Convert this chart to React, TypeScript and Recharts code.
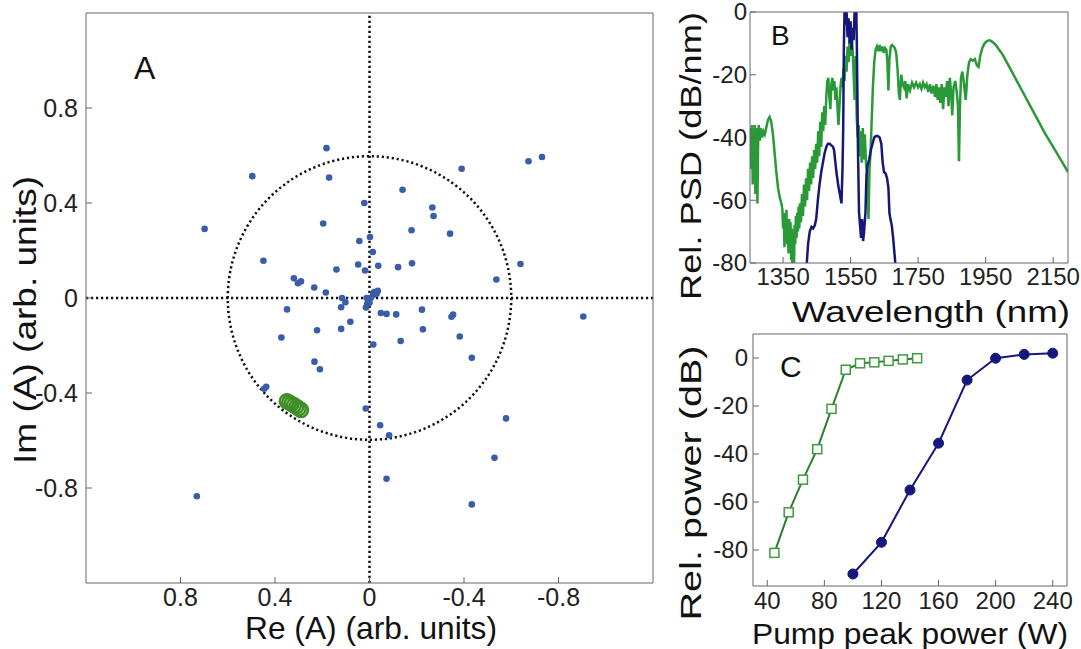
import React from 'react';
import {
  ScatterChart,
  Scatter,
  LineChart,
  Line,
  XAxis,
  YAxis,
  ReferenceLine,
  ReferenceDot,
} from 'recharts';

// ---- Panel A: complex amplitudes ----
const reBlue = [
  0.182, 0.496, 0.171, -0.673, -0.73, -0.39, -0.14, 0.022, -0.266, -0.271, 0.698, 0.196, -0.178,
  -0.341, -0.002, 0.043, -0.014, 0.449, 0.048, 0.019, -0.037, 0.14, -0.121, -0.18, -0.639, 0.32,
  0.303, 0.29, 0.234, 0.185, -0.537, 0.116, 0.102, 0.12, 0.349, -0.048, -0.072, -0.113, -0.222,
  -0.347, -0.354, -0.905, 0.081, 0.12, 0.222, -0.226, 0.373, -0.382, -0.132, -0.016, -0.433,
  0.233, 0.21, 0.437, 0.446, 0.016, -0.578, -0.045, -0.083, -0.529, -0.072, 0.731, -0.433,
  0.015, 0.01, 0.005, -0.005, -0.015, -0.025, -0.035, 0.0, -0.02, 0.012, -0.03,
];
const imBlue = [
  0.631, 0.513, 0.507, 0.576, 0.594, 0.544, 0.456, 0.4, 0.381, 0.345, 0.291, 0.314, 0.285, 0.271,
  0.257, 0.24, 0.194, 0.157, 0.141, 0.116, 0.136, 0.12, 0.13, 0.146, 0.143, 0.083, 0.062, 0.07,
  0.044, 0.023, 0.078, 0.0, -0.018, -0.039, -0.048, -0.063, -0.067, -0.069, -0.049, -0.079, -0.07,
  -0.078, -0.1, -0.13, -0.136, -0.132, -0.166, -0.162, -0.181, -0.196, -0.252, -0.268, -0.3,
  -0.374, -0.382, -0.465, -0.507, -0.536, -0.578, -0.673, -0.761, -0.835, -0.869,
  -0.04, -0.025, -0.01, 0.0, 0.012, 0.02, 0.03, -0.02, 0.025, 0.0, 0.018,
];
const reGreen = [0.35, 0.34, 0.33, 0.32, 0.31, 0.3, 0.29];
const imGreen = [-0.435, -0.44, -0.446, -0.452, -0.458, -0.465, -0.472];
const amplitudeTicks = [-0.8, -0.4, 0, 0.4, 0.8];

// ---- Panel B: spectra ----
const greenWavelength = [
  1252, 1254, 1256, 1258, 1260, 1262, 1264, 1266, 1268, 1270, 1272, 1274, 1276, 1278, 1281, 1284,
  1288, 1292, 1296, 1300, 1305, 1310, 1315, 1320, 1325, 1330, 1335, 1340, 1345, 1348, 1350, 1352,
  1354, 1356, 1358, 1360, 1362, 1364, 1366, 1368, 1370, 1372, 1374, 1376, 1378, 1380, 1382, 1384,
  1386, 1388, 1390, 1392, 1394, 1396, 1398, 1400, 1403, 1406, 1409, 1412, 1415, 1418, 1421, 1424,
  1427, 1430, 1433, 1436, 1439, 1442, 1445, 1448, 1451, 1454, 1457, 1460, 1463, 1466, 1469, 1472,
  1475, 1478, 1481, 1484, 1487, 1490, 1493, 1496, 1499, 1502, 1505, 1508, 1511, 1514, 1517, 1520,
  1523, 1526, 1529, 1532, 1535, 1538, 1541, 1544, 1547, 1550, 1553, 1556, 1559, 1562, 1565, 1568,
  1571, 1574, 1577, 1580, 1583, 1586, 1589, 1592, 1596, 1600, 1603, 1606, 1609, 1612, 1616, 1620,
  1624, 1628, 1632, 1636, 1640, 1644, 1648, 1652, 1656, 1659, 1662, 1665, 1669, 1673, 1677, 1681,
  1685, 1689, 1693, 1696, 1700, 1704, 1708, 1712, 1716, 1720, 1726, 1732, 1738, 1744, 1750, 1755,
  1760, 1765, 1770, 1775, 1780, 1785, 1790, 1795, 1800, 1804, 1808, 1812, 1816, 1820, 1824, 1828,
  1832, 1836, 1840, 1844, 1848, 1851, 1855, 1860, 1865, 1868, 1871, 1874, 1877, 1881, 1885, 1891,
  1896, 1901, 1906, 1912, 1918, 1924, 1929, 1934, 1940, 1947, 1955, 1962, 1970, 1980, 1990, 2000,
  2010, 2020, 2030, 2045, 2060, 2080, 2100, 2125, 2150, 2175, 2194,
];
const greenPsd = [
  -44, -37, -50, -36, -55, -38, -46, -36, -58, -40, -37, -61, -42, -36, -41, -37,
  -40, -38, -39, -37, -34.5, -33.5, -35, -39, -45, -51, -56, -59, -61, -63, -69, -64,
  -75, -66, -71, -63, -74, -67, -77, -66, -72, -67, -79, -69, -84, -70, -85, -68,
  -74, -65, -72, -64, -70, -62, -69, -61, -67, -58, -65, -55, -62, -53, -60, -50,
  -57, -48, -55, -46, -53, -44, -50, -42, -48, -38, -46, -35, -43, -32, -38, -30,
  -36, -27, -22, -21, -27, -31, -23, -21, -25, -22, -28, -24, -30, -36, -30, -24,
  -21, -24, -18, -22, -14, -19, -11, -16, -9, -14, -8, -12, -20, -28, -14, -33,
  -40, -36, -46, -38, -48, -37, -47, -39, -49, -52, -66, -50, -45, -36, -24, -16,
  -12, -11, -12.5, -10.5, -12.5, -11, -13, -11.5, -12, -16, -25, -15, -11, -10.5, -11, -11.5,
  -13, -18, -26, -28, -20, -23, -24, -22, -27.5, -23, -25, -22.5, -24, -22.5, -24, -23,
  -24.5, -22.5, -24, -23, -25.5, -23, -26, -23.5, -27, -23, -28, -24, -29, -23, -31, -24,
  -27, -22, -30, -21, -26, -33, -24, -22, -26, -30, -47.6, -30, -21, -19, -22, -28,
  -20, -16, -15, -15.5, -15, -17, -17.5, -14, -11.5, -10, -9.2, -9, -9.5, -10.5, -12, -13.5,
  -15.5, -17.5, -19.5, -22.5, -25.5, -29.5, -33.5, -38.5, -43, -47.5, -51,
];
const blueWavelength = [
  1419, 1424, 1429, 1434, 1439, 1444, 1448, 1453, 1458, 1463, 1468, 1473, 1478, 1483, 1488, 1493,
  1498, 1501, 1505, 1508, 1513, 1518, 1523, 1526, 1528, 1530, 1532, 1535, 1538, 1541, 1544, 1547,
  1550, 1553, 1556, 1559, 1562, 1565, 1567, 1569, 1572, 1575, 1578, 1581, 1584, 1587, 1590, 1594,
  1597, 1600, 1605, 1610, 1615, 1620, 1625, 1630, 1636, 1641, 1645, 1649, 1654, 1658, 1662, 1665,
  1668, 1672, 1676, 1680, 1684,
];
const bluePsd = [
  -82, -74, -70, -68.5, -69, -68, -66, -60, -55, -51, -48, -45, -43, -42, -42, -42.5,
  -43, -44, -48, -51, -55, -58, -61, -50, -38, -12, 0.5, -4, 0.5, -8, -2, -10,
  -3, -12, -5, -9, 0.5, -3, 0.5, -15, -45, -64, -68, -72, -66, -73, -70, -64,
  -52, -49, -47, -44, -42, -40, -39.5, -39.5, -40, -42, -48, -51, -51.5, -53, -56, -64,
  -66, -68, -72, -77, -82,
];
const wavelengthTicks = [1350, 1550, 1750, 1950, 2150];
const psdTicks = [-80, -60, -40, -20, 0];

// ---- Panel C: conversion vs pump ----
const greenPump = [45, 55, 65, 75, 85, 95, 105, 115, 125, 135, 145];
const greenPower = [-81.2, -64.3, -50.7, -38, -21.2, -4.9, -2.2, -1.8, -1.2, -0.6, -0.1];
const bluePump = [100, 120, 140, 160, 180, 200, 220, 240];
const bluePower = [-90, -76.8, -55, -35.5, -9.2, -0.1, 1.5, 2];
const pumpTicks = [40, 80, 120, 160, 200, 240];
const powerTicks = [-80, -60, -40, -20, 0];

const FONT = '"Liberation Sans", Arial, Helvetica, sans-serif';
const AXIS = '#666';
const GREEN = '#2a9a38';
const NAVY = '#15177c';

const blueDots = reBlue.map((re, i) => ({ re, im: imBlue[i] }));
const greenDots = reGreen.map((re, i) => ({ re, im: imGreen[i] }));
const greenSpectrum = greenWavelength.map((nm, i) => ({ nm, psd: greenPsd[i] }));
const blueSpectrum = blueWavelength.map((nm, i) => ({ nm, psd: bluePsd[i] }));
const greenConv = greenPump.map((pump, i) => ({ pump, power: greenPower[i] }));
const blueConv = bluePump.map((pump, i) => ({ pump, power: bluePower[i] }));

const blank = () => '';

// tick label renderer so the font size is applied for sure
function TickText(props: any) {
  const { x, y, payload, textAnchor, orientation, size } = props;
  const dy = orientation === 'bottom' ? '0.8em' : '0.35em';
  return (
    <text x={x} y={y} dy={dy} textAnchor={textAnchor} fontSize={size} fontFamily={FONT} fill="#222">
      {payload.value}
    </text>
  );
}

const dotted = { stroke: '#111', strokeWidth: 2.5, strokeDasharray: '2.2 2.8' };

function PanelA() {
  // plot area is 567 px for 2.4 units -> circle of radius 0.6
  const circleR = (567 * 0.6) / 2.4;
  return (
    <ScatterChart width={670} height={620} margin={{ top: 12, right: 12, bottom: 0, left: 0 }}>
      <XAxis
        xAxisId="b"
        type="number"
        dataKey="re"
        domain={[-1.2, 1.2]}
        reversed
        ticks={amplitudeTicks}
        interval={0}
        height={37}
        tickSize={-6}
        tickMargin={9}
        stroke={AXIS}
        tick={<TickText orientation="bottom" size={25} />}
      />
      <XAxis
        xAxisId="t"
        orientation="top"
        type="number"
        domain={[-1.2, 1.2]}
        reversed
        ticks={amplitudeTicks}
        interval={0}
        height={1}
        tickSize={-6}
        tickFormatter={blank}
        stroke={AXIS}
      />
      <YAxis
        yAxisId="l"
        type="number"
        dataKey="im"
        domain={[-1.2, 1.2]}
        ticks={amplitudeTicks}
        interval={0}
        width={86}
        tickSize={-6}
        tickMargin={14}
        stroke={AXIS}
        tick={<TickText orientation="left" size={25} />}
      />
      <YAxis
        yAxisId="r"
        orientation="right"
        type="number"
        domain={[-1.2, 1.2]}
        ticks={amplitudeTicks}
        interval={0}
        width={5}
        tickSize={-6}
        tickFormatter={blank}
        stroke={AXIS}
      />
      <ReferenceLine xAxisId="b" yAxisId="l" x={0} {...dotted} />
      <ReferenceLine xAxisId="b" yAxisId="l" y={0} {...dotted} />
      <ReferenceDot xAxisId="b" yAxisId="l" x={0} y={0} r={circleR} fill="none" {...dotted} />
      <Scatter
        xAxisId="b"
        yAxisId="l"
        data={blueDots}
        isAnimationActive={false}
        shape={(p: any) => <circle cx={p.cx} cy={p.cy} r={3.3} fill="#3a5da8" />}
      />
      <Scatter
        xAxisId="b"
        yAxisId="l"
        data={greenDots}
        isAnimationActive={false}
        shape={(p: any) => (
          <circle cx={p.cx} cy={p.cy} r={7} fill="none" stroke="#3f8f25" strokeWidth={2.5} />
        )}
      />
    </ScatterChart>
  );
}

function PanelB() {
  return (
    <LineChart
      width={401}
      height={300}
      margin={{ top: 11, right: 8, bottom: 0, left: 0 }}
      style={{ overflow: 'visible' }}
    >
      <XAxis
        xAxisId="b"
        type="number"
        dataKey="nm"
        domain={[1252, 2194]}
        allowDataOverflow
        ticks={wavelengthTicks}
        interval={0}
        height={37}
        tickSize={-6}
        tickMargin={9}
        stroke={AXIS}
        tick={<TickText orientation="bottom" size={24} />}
      />
      <XAxis
        xAxisId="t"
        orientation="top"
        type="number"
        domain={[1252, 2194]}
        ticks={wavelengthTicks}
        interval={0}
        height={1}
        tickSize={-6}
        tickFormatter={blank}
        stroke={AXIS}
      />
      <YAxis
        yAxisId="l"
        type="number"
        domain={[-80, 0]}
        allowDataOverflow
        ticks={psdTicks}
        interval={0}
        width={70}
        tickSize={-6}
        tickMargin={9}
        stroke={AXIS}
        tick={<TickText orientation="left" size={24} />}
      />
      <YAxis
        yAxisId="r"
        orientation="right"
        type="number"
        domain={[-80, 0]}
        ticks={psdTicks}
        interval={0}
        width={5}
        tickSize={-6}
        tickFormatter={blank}
        stroke={AXIS}
      />
      <Line
        xAxisId="b"
        yAxisId="l"
        data={greenSpectrum}
        dataKey="psd"
        stroke={GREEN}
        strokeWidth={2.5}
        dot={false}
        isAnimationActive={false}
      />
      <Line
        xAxisId="b"
        yAxisId="l"
        data={blueSpectrum}
        dataKey="psd"
        stroke={NAVY}
        strokeWidth={2.5}
        dot={false}
        isAnimationActive={false}
      />
    </LineChart>
  );
}

function PanelC() {
  return (
    <LineChart width={401} height={300} margin={{ top: 13, right: 9, bottom: 0, left: 0 }}>
      <XAxis
        xAxisId="b"
        type="number"
        dataKey="pump"
        domain={[30, 250]}
        ticks={pumpTicks}
        interval={0}
        height={34}
        tickSize={-6}
        tickMargin={10}
        stroke={AXIS}
        tick={<TickText orientation="bottom" size={24} />}
      />
      <XAxis
        xAxisId="t"
        orientation="top"
        type="number"
        domain={[30, 250]}
        ticks={pumpTicks}
        interval={0}
        height={1}
        tickSize={-6}
        tickFormatter={blank}
        stroke={AXIS}
      />
      <YAxis
        yAxisId="l"
        type="number"
        domain={[-95, 10]}
        ticks={powerTicks}
        interval={0}
        width={73}
        tickSize={-6}
        tickMargin={11}
        stroke={AXIS}
        tick={<TickText orientation="left" size={24} />}
      />
      <YAxis
        yAxisId="r"
        orientation="right"
        type="number"
        domain={[-95, 10]}
        ticks={powerTicks}
        interval={0}
        width={5}
        tickSize={-6}
        tickFormatter={blank}
        stroke={AXIS}
      />
      <Line
        xAxisId="b"
        yAxisId="l"
        data={greenConv}
        dataKey="power"
        stroke="#2f7d33"
        strokeWidth={2}
        isAnimationActive={false}
        dot={(p: any) => (
          <rect
            key={`sq-${p.index}`}
            x={p.cx - 4.5}
            y={p.cy - 4.5}
            width={9}
            height={9}
            fill="#fff"
            stroke="#3c9c3c"
            strokeWidth={1.5}
          />
        )}
      />
      <Line
        xAxisId="b"
        yAxisId="l"
        data={blueConv}
        dataKey="power"
        stroke={NAVY}
        strokeWidth={2}
        isAnimationActive={false}
        dot={{ r: 5, fill: NAVY, stroke: NAVY, strokeWidth: 1 }}
      />
    </LineChart>
  );
}

export default function App() {
  const txt = { fontFamily: FONT, fill: '#111' } as const;
  return (
    <div
      style={{
        position: 'absolute',
        left: 0,
        top: 0,
        width: 1081,
        height: 649,
        background: '#fff',
        overflow: 'hidden',
      }}
    >
      <div style={{ position: 'absolute', left: 0, top: 0 }}>
        <PanelA />
      </div>
      <div style={{ position: 'absolute', left: 680, top: 0 }}>
        <PanelB />
      </div>
      <div style={{ position: 'absolute', left: 680, top: 320 }}>
        <PanelC />
      </div>
      <svg
        width={1081}
        height={649}
        style={{ position: 'absolute', left: 0, top: 0, pointerEvents: 'none' }}
      >
        <text x={134} y={79} fontSize={32} {...txt}>A</text>
        <text x={771} y={45} fontSize={28} {...txt}>B</text>
        <text x={780} y={377} fontSize={30} {...txt}>C</text>
        <text x={371} y={639} fontSize={32} textAnchor="middle" textLength={252} lengthAdjust="spacingAndGlyphs" {...txt}>
          Re (A) (arb. units)
        </text>
        <text
          x={0}
          y={0}
          fontSize={32}
          textAnchor="middle"
          textLength={288}
          lengthAdjust="spacingAndGlyphs"
          transform="translate(36 320) rotate(-90)"
          {...txt}
        >
          Im (A) (arb. units)
        </text>
        <text
          x={0}
          y={0}
          fontSize={30}
          textAnchor="middle"
          textLength={288}
          lengthAdjust="spacingAndGlyphs"
          transform="translate(701 156) rotate(-90)"
          {...txt}
        >
          Rel. PSD (dB/nm)
        </text>
        <text x={931} y={322} fontSize={30} textAnchor="middle" textLength={278} lengthAdjust="spacingAndGlyphs" {...txt}>
          Wavelength (nm)
        </text>
        <text
          x={0}
          y={0}
          fontSize={30}
          textAnchor="middle"
          textLength={275}
          lengthAdjust="spacingAndGlyphs"
          transform="translate(701 483) rotate(-90)"
          {...txt}
        >
          Rel. power (dB)
        </text>
        <text x={910} y={644} fontSize={30} textAnchor="middle" textLength={316} lengthAdjust="spacingAndGlyphs" {...txt}>
          Pump peak power (W)
        </text>
      </svg>
    </div>
  );
}
